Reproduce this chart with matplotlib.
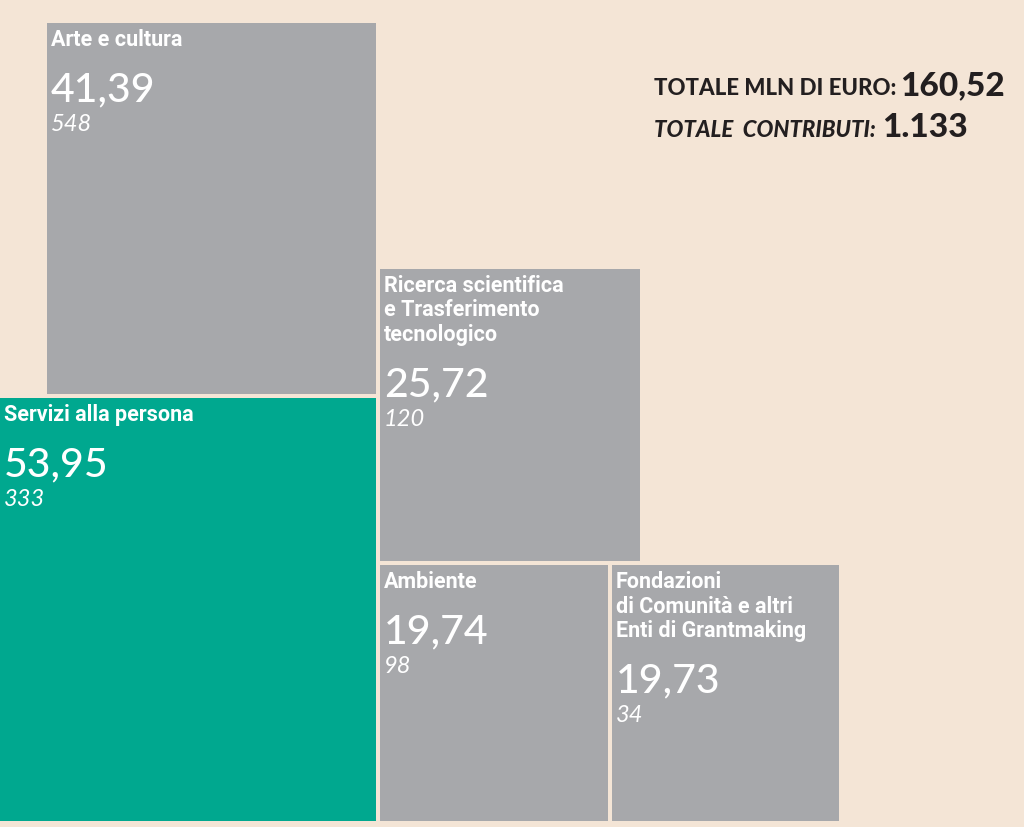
import numpy as np
import matplotlib.pyplot as plt
from matplotlib.patches import Rectangle

# dati (mln di euro e numero di contributi per settore)
categories = [
    "Servizi alla persona",
    "Arte e cultura",
    "Ricerca scientifica\ne Trasferimento\ntecnologico",
    "Ambiente",
    "Fondazioni\ndi Comunità e altri\nEnti di Grantmaking",
]
values = [53.95, 41.39, 25.72, 19.74, 19.73]
contributi = [333, 548, 120, 98, 34]
totale_mln = "160,52"
totale_contributi = "1.133"

bg = "#F4E5D6"
grey = "#A7A8AB"
green = "#00A88F"
colors = [green, grey, grey, grey, grey]

label_font = ["Roboto", "DejaVu Sans"]
num_font = ["Lato", "DejaVu Sans"]
title_font = ["Lato", "DejaVu Sans"]

fig = plt.figure(figsize=(10.24, 8.28), dpi=100)
fig.patch.set_facecolor(bg)
ax = fig.add_axes([0, 0, 1, 1])
ax.set_facecolor(bg)
ax.set_xlim(0, 20.0)
ax.set_ylim(-6 / 57.6, 822 / 57.6)
ax.axis("off")

# lato del quadrato proporzionale alla radice del valore
sides = np.sqrt(values)
gx, gy = 4 / 51.2, 4 / 57.6
s0, s1, s2, s3, s4 = sides
origins = [
    (0, 0),
    (s0 - s1, s0 + gy),
    (s0 + gx, s3 + gy),
    (s0 + gx, 0),
    (s0 + gx + s3 + gx, 0),
]

PX = 0.72  # pixel -> punti a 100 dpi
for cat, val, n, side, (x0, y0), col in zip(categories, values, contributi, sides, origins, colors):
    ax.add_patch(Rectangle((x0, y0), side, side, facecolor=col, edgecolor="none"))
    top = (x0, y0 + side)
    lines = cat.split("\n")
    for i, line in enumerate(lines):
        ax.annotate(line, xy=top, xytext=(4 * PX, -(22 + 24.5 * i) * PX),
                    textcoords="offset points", va="baseline", ha="left",
                    color="white", fontsize=15.5, fontweight="bold", family=label_font)
    extra = 24.5 * (len(lines) - 1)
    ax.annotate(f"{val:.2f}".replace(".", ","), xy=top,
                xytext=(4 * PX, -(77 + extra) * PX), textcoords="offset points",
                va="baseline", ha="left", color="white", fontsize=29.5,
                fontweight="medium", family=num_font)
    ax.annotate(str(n), xy=top, xytext=(4 * PX, -(107 + extra) * PX),
                textcoords="offset points", va="baseline", ha="left",
                color="white", fontsize=17, style="italic", family=num_font)

# totali in alto a destra
W, H = 1024, 828
renderer = fig.canvas.get_renderer()
t1 = fig.text(654 / W, 1 - 95 / H, "TOTALE MLN DI EURO:", fontsize=16, fontweight="black",
              color="#231F20", family=title_font, va="baseline", ha="left")
x1 = t1.get_window_extent(renderer).x1
fig.text((x1 + 4) / W, 1 - 95 / H, totale_mln, fontsize=24, fontweight="black",
         color="#231F20", family=title_font, va="baseline", ha="left")
t2 = fig.text(654 / W, 1 - 137 / H, "TOTALE  CONTRIBUTI:", fontsize=16, fontweight="black",
              style="italic", color="#231F20", family=title_font, va="baseline", ha="left")
x2 = t2.get_window_extent(renderer).x1
fig.text((x2 + 6) / W, 1 - 137 / H, totale_contributi, fontsize=24, fontweight="black",
         color="#231F20", family=title_font, va="baseline", ha="left")

fig.savefig("out.png", dpi=100, facecolor=bg)
